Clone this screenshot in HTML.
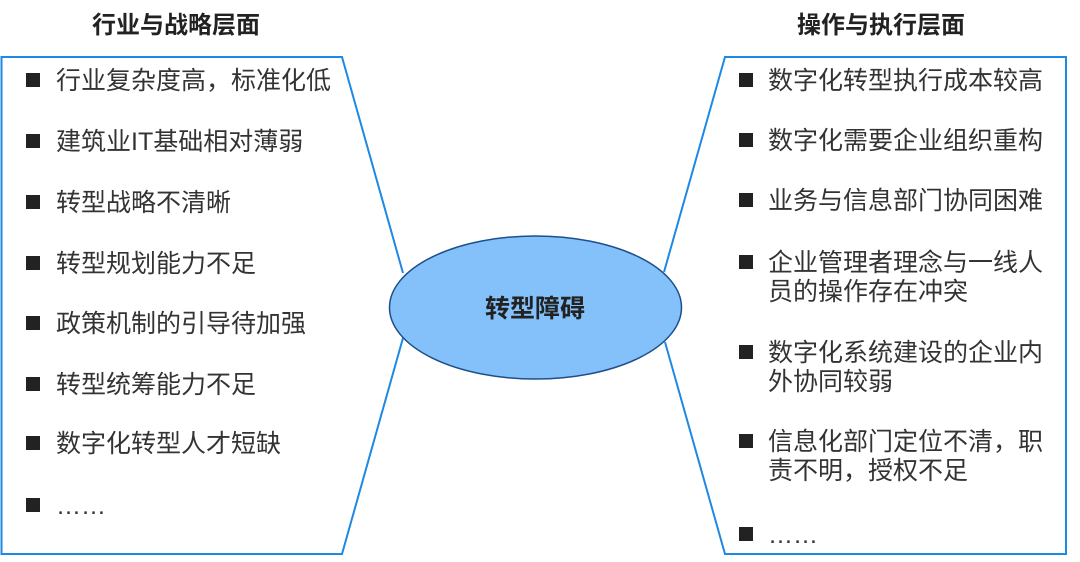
<!DOCTYPE html>
<html><head><meta charset="utf-8"><style>
body{margin:0;background:#fff;}
svg{display:block}
text{font-family:"Liberation Sans","Noto Sans CJK SC",sans-serif;}
.t{font-size:25px;fill:#333;}
.h{font-size:24px;font-weight:bold;fill:#222;}
</style></head><body>
<svg width="1080" height="562" viewBox="0 0 1080 562" xmlns="http://www.w3.org/2000/svg">
<text class="h" x="176" y="33" text-anchor="middle">行业与战略层面</text>
<text class="h" x="881" y="33" text-anchor="middle">操作与执行层面</text>
<path d="M403,273 L342,57 L1.5,57 L1.5,554 L342,554 L403,338" fill="none" stroke="#1e88e5" stroke-width="2"/>
<path d="M664,272 L725,57 L1066,57 L1066,554 L725,554 L665,342" fill="none" stroke="#1e88e5" stroke-width="2"/>
<ellipse cx="535.5" cy="307.5" rx="146" ry="71.5" fill="#84c1fb" stroke="#1d4f8a" stroke-width="1.5"/>
<text x="535" y="317" text-anchor="middle" style="font-size:25px;font-weight:bold;fill:#222">转型障碍</text>
<g fill="#222">
<rect x="26" y="73" width="14" height="14"/><rect x="26" y="134" width="14" height="14"/>
<rect x="26" y="195" width="14" height="14"/><rect x="26" y="256" width="14" height="14"/>
<rect x="26" y="316" width="14" height="14"/><rect x="26" y="377" width="14" height="14"/>
<rect x="26" y="436" width="14" height="14"/><rect x="26" y="498" width="14" height="14"/>
<rect x="739" y="73" width="14" height="14"/><rect x="739" y="133" width="14" height="14"/>
<rect x="739" y="193" width="14" height="14"/><rect x="739" y="255" width="14" height="14"/>
<rect x="739" y="345" width="14" height="14"/><rect x="739" y="434" width="14" height="14"/>
<rect x="739" y="527" width="14" height="14"/>
</g>
<g class="t">
<text x="56" y="89">行业复杂度高，标准化低</text>
<text x="56" y="150">建筑业IT基础相对薄弱</text>
<text x="56" y="211">转型战略不清晰</text>
<text x="56" y="272">转型规划能力不足</text>
<text x="56" y="332">政策机制的引导待加强</text>
<text x="56" y="393">转型统筹能力不足</text>
<text x="56" y="452">数字化转型人才短缺</text>
<text x="56" y="514">……</text>
<text x="768" y="89">数字化转型执行成本较高</text>
<text x="768" y="149">数字化需要企业组织重构</text>
<text x="768" y="209">业务与信息部门协同困难</text>
<text x="768" y="271">企业管理者理念与一线人</text>
<text x="768" y="300">员的操作存在冲突</text>
<text x="768" y="361">数字化系统建设的企业内</text>
<text x="768" y="390">外协同较弱</text>
<text x="768" y="450">信息化部门定位不清，职</text>
<text x="768" y="479">责不明，授权不足</text>
<text x="768" y="543">……</text>
</g>
</svg>
</body></html>
